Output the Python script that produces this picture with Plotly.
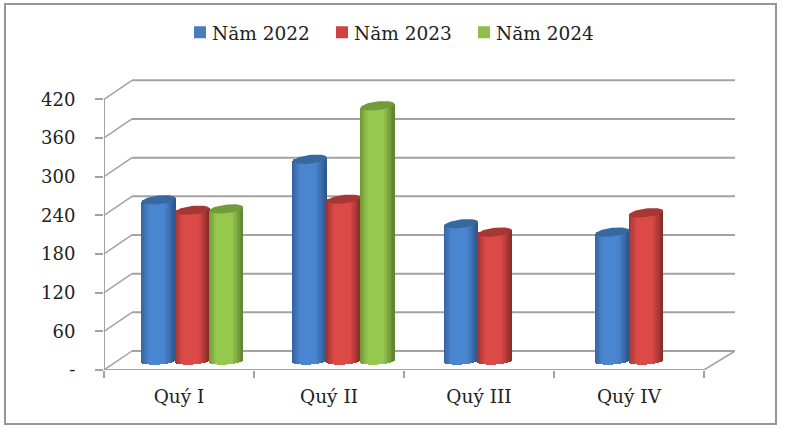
import numpy as np
import plotly.graph_objects as go

categories = ["Quý I", "Quý II", "Quý III", "Quý IV"]
series_names = ["Năm 2022", "Năm 2023", "Năm 2024"]
values_2022 = [250, 313, 213, 200]
values_2023 = [234, 251, 200, 230]
values_2024 = [236, 396, None, None]
y_ticks = [0, 60, 120, 180, 240, 300, 360, 420]
y_tick_labels = ["-", "60", "120", "180", "240", "300", "360", "420"]

series_values = [values_2022, values_2023, values_2024]
mid_colors = [(74, 133, 208), (220, 74, 72), (150, 200, 78)]
edge_colors = [(46, 88, 142), (138, 46, 44), (100, 134, 50)]
cap_colors = ["#37689f", "#a63735", "#729c3a"]
legend_colors = ["#4a7ebb", "#cf4240", "#8fbf4a"]

# kich thuoc ve theo pixel, doi sang don vi truc
W, H = 785, 432
LEFT, RIGHT, TOP, BOTTOM = 104, 735, 79, 370
PX_CAT = 150.0
PX_VAL = 0.6445
DEPTH_X = 28 / PX_CAT
DEPTH_Y = 19 / PX_VAL
X_MAX = (RIGHT - LEFT) / PX_CAT
Y_MAX = (BOTTOM - TOP) / PX_VAL

BAR_W = 33.8 / PX_CAT
GROUP_SHIFT = 0.59
GROUP_PITCH = 1.0085
BASE = 9 / PX_VAL
N_STRIPS = 25
LINE = "#a2a2a2"


def bar_x(cat, s):
    return cat * GROUP_PITCH + GROUP_SHIFT + (s - 1) * BAR_W


def ellipse(cx, cy, half_h, tilt):
    t = np.linspace(0, 2 * np.pi, 60)
    xs = cx + BAR_W / 2 * np.cos(t)
    ys = cy + half_h / PX_VAL * np.sin(t) + tilt / PX_VAL * np.cos(t)
    return xs, ys


fig = go.Figure()

# cot tru: moi dai mot mau de tao do doi bong
strip_w = BAR_W / N_STRIPS
for s, vals in enumerate(series_values):
    idx = [i for i, v in enumerate(vals) if v is not None]
    fig.add_trace(go.Bar(x=[bar_x(i, s) for i in idx],
                         y=[vals[i] for i in idx],
                         base=BASE,
                         width=BAR_W * 0.98,
                         name=series_names[s],
                         marker=dict(color=legend_colors[s], line_width=0)))
    for k in range(N_STRIPS):
        t = (k + 0.5) / N_STRIPS * 2 - 1
        mix = np.clip((1 - abs(t + 0.08)) / 0.55, 0, 1) ** 0.8
        c = [edge_colors[s][j] + (mid_colors[s][j] - edge_colors[s][j]) * mix for j in range(3)]
        bottom = BASE + (-3.5 * np.sqrt(1 - t * t) + 1.0 * t) / PX_VAL
        top_off = 1.8 * t / PX_VAL
        fig.add_trace(go.Bar(x=[bar_x(i, s) + t * BAR_W / 2 for i in idx],
                             y=[BASE + vals[i] + top_off - bottom for i in idx],
                             base=bottom,
                             width=strip_w * 1.25,
                             showlegend=False,
                             hoverinfo="skip",
                             marker=dict(color="rgb(%d,%d,%d)" % tuple(c), line_width=0)))

# nap tren cua tru
for s, vals in enumerate(series_values):
    for i, v in enumerate(vals):
        if v is None:
            continue
        xs, ys = ellipse(bar_x(i, s), BASE + v, 4.3, 1.8)
        fig.add_trace(go.Scatter(x=xs, y=ys, mode="lines", fill="toself",
                                 fillcolor=cap_colors[s], line=dict(width=0),
                                 showlegend=False, hoverinfo="skip"))

# tuong sau, duong luoi xien
shapes = []


def add_line(x0, y0, x1, y1, width=2.0):
    shapes.append(dict(type="line", xref="x", yref="y", x0=x0, y0=y0, x1=x1, y1=y1,
                       layer="below", line=dict(color=LINE, width=width)))


for v in y_ticks:
    add_line(0, v, DEPTH_X, v + DEPTH_Y, 1.5)
    add_line(DEPTH_X, v + DEPTH_Y, X_MAX, v + DEPTH_Y, 2.0)
add_line(0, 0, 0, y_ticks[-1], 2.0)
add_line(0, 0, len(categories), 0, 2.0)
add_line(len(categories), 0, X_MAX, DEPTH_Y, 1.5)

# khung ngoai
shapes.append(dict(type="rect", xref="paper", yref="paper",
                   x0=(5 - LEFT) / (RIGHT - LEFT), x1=(776 - LEFT) / (RIGHT - LEFT),
                   y0=(BOTTOM - 424) / (BOTTOM - TOP), y1=(BOTTOM - 4) / (BOTTOM - TOP),
                   layer="below", line=dict(color="#969696", width=2)))

fig.update_layout(
    width=W, height=H,
    margin=dict(l=LEFT, r=W - RIGHT, t=TOP, b=H - BOTTOM, pad=0, autoexpand=False),
    paper_bgcolor="white",
    plot_bgcolor="rgba(0,0,0,0)",
    barmode="overlay",
    bargap=0,
    shapes=shapes,
    showlegend=True,
    font=dict(family="DejaVu Serif", color="#222222"),
    legend=dict(orientation="h", x=(172 - LEFT) / (RIGHT - LEFT), xanchor="left",
                y=1.224, yanchor="top",
                font=dict(size=18.5), entrywidth=97, entrywidthmode="pixels",
                itemclick=False, bgcolor="rgba(0,0,0,0)"),
    xaxis=dict(range=[0, X_MAX], tickmode="array",
               tickvals=[i + 0.5 for i in range(len(categories))],
               ticktext=categories, ticks="", showgrid=False, zeroline=False,
               showline=False, tickfont=dict(size=18.5), ticklabelstandoff=13,
               minor=dict(tick0=0, dtick=1, ticks="outside", ticklen=7,
                          tickwidth=1.5, tickcolor=LINE, showgrid=False)),
    yaxis=dict(range=[0, Y_MAX], tickmode="array", tickvals=y_ticks,
               ticktext=y_tick_labels, ticks="outside", ticklen=8, tickwidth=1.5,
               tickcolor=LINE, showgrid=False, zeroline=False, showline=False,
               tickfont=dict(size=18), ticklabelstandoff=16),
)

# o mau chu thich sat chu hon
post = """document.body.style.margin='0';
document.querySelectorAll('.legend .layers').forEach(function(el){el.setAttribute('transform','translate(8,0)');});"""
fig.write_html("out.html", post_script=post, config={"displayModeBar": False})
